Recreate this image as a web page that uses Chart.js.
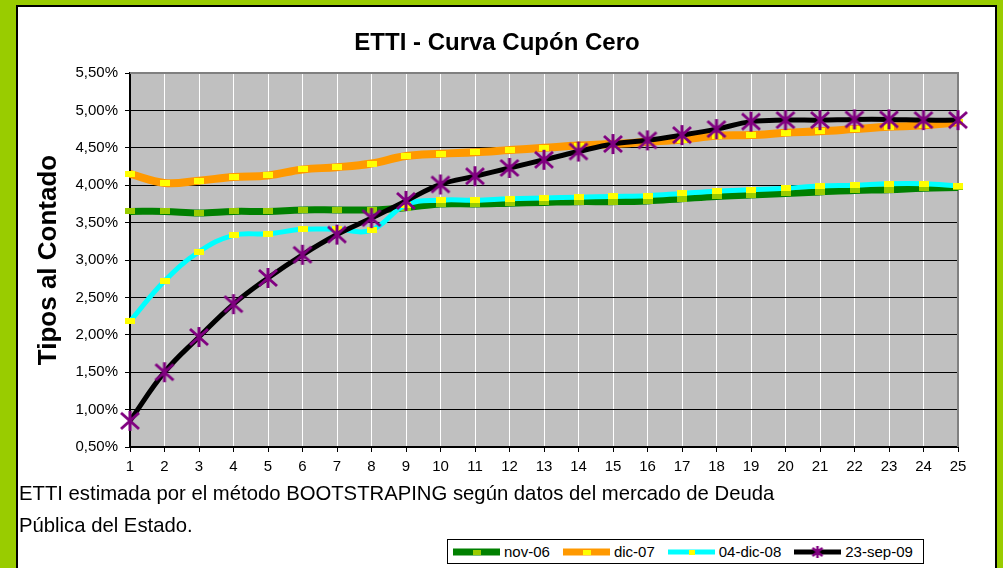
<!DOCTYPE html>
<html>
<head>
<meta charset="utf-8">
<script src="https://cdn.jsdelivr.net/npm/chart.js@4.4.1/dist/chart.umd.min.js"></script>
<style>
  html, body { margin: 0; padding: 0; }
  body { width: 1003px; height: 568px; background: #99cc00; position: relative; overflow: hidden;
         font-family: "Liberation Sans", Arial, sans-serif; }
  #panel { position: absolute; left: 16px; top: 5px; width: 981px; height: 600px; background: #fff;
           border: 2px solid #000; box-sizing: border-box; }
  #chart { position: absolute; left: 0; top: 0; }
  #note { position: absolute; left: 19px; top: 477px; font-size: 20.3px; line-height: 32px; color: #000;
          white-space: nowrap; }
  #legend { position: absolute; left: 447px; top: 539px; width: 477px; height: 25px; border: 1px solid #000;
            box-sizing: border-box; display: flex; align-items: center; padding-left: 5px;
            font-size: 15px; background: #fff; white-space: nowrap; }
  .item { display: flex; align-items: center; margin-right: 13px; flex-shrink: 0; }
  .item canvas { margin-right: 4px; }
</style>
</head>
<body>
<div id="panel"></div>
<canvas id="chart" width="1003" height="568"></canvas>
<div id="note">ETTI estimada por el método BOOTSTRAPING según datos del mercado de Deuda<br>Pública del Estado.</div>
<div id="legend"></div>
<script>
const plazos = ["1", "2", "3", "4", "5", "6", "7", "8", "9", "10", "11", "12", "13",
  "14", "15", "16", "17", "18", "19", "20", "21", "22", "23", "24", "25"];
const yTicks = [0.5, 1.0, 1.5, 2.0, 2.5, 3.0, 3.5, 4.0, 4.5, 5.0, 5.5];
const seriesNames = ["nov-06", "dic-07", "04-dic-08", "23-sep-09"];

const nov06 = [3.65, 3.65, 3.63, 3.65, 3.65, 3.67, 3.67, 3.67, 3.70, 3.75, 3.75, 3.76, 3.77,
  3.78, 3.78, 3.79, 3.82, 3.85, 3.87, 3.89, 3.91, 3.93, 3.94, 3.96, 3.97];
const dic07 = [4.15, 4.03, 4.06, 4.11, 4.13, 4.21, 4.24, 4.29, 4.39, 4.42, 4.44, 4.47, 4.50,
  4.53, 4.55, 4.58, 4.61, 4.66, 4.67, 4.70, 4.72, 4.75, 4.78, 4.80, 4.84];
const dic08 = [2.18, 2.72, 3.11, 3.33, 3.35, 3.41, 3.41, 3.40, 3.74, 3.80, 3.80, 3.82, 3.83,
  3.84, 3.85, 3.86, 3.89, 3.92, 3.94, 3.96, 3.99, 4.00, 4.02, 4.02, 3.99];
const sep09 = [0.85, 1.50, 1.97, 2.41, 2.76, 3.07, 3.34, 3.56, 3.79, 4.01, 4.12, 4.23, 4.34,
  4.45, 4.55, 4.60, 4.67, 4.75, 4.85, 4.87, 4.87, 4.88, 4.88, 4.87, 4.87];

const font = "'Liberation Sans', Arial, sans-serif";

function rectMarker(color, w, h) {
  const c = document.createElement("canvas");
  c.width = w;
  c.height = h;
  const g = c.getContext("2d");
  g.fillStyle = color;
  g.fillRect(0, 0, w, h);
  return c;
}

function starMarker(color, size, lw) {
  const c = document.createElement("canvas");
  c.width = size;
  c.height = size;
  const g = c.getContext("2d");
  g.strokeStyle = color;
  g.lineWidth = lw;
  g.beginPath();
  g.moveTo(size / 2, 1);
  g.lineTo(size / 2, size - 1);
  g.moveTo(2, 3);
  g.lineTo(size - 2, size - 3);
  g.moveTo(size - 2, 3);
  g.lineTo(2, size - 3);
  g.stroke();
  return c;
}

const styles = [
  { line: "#008000", width: 7, marker: rectMarker("#99cc00", 10, 6), small: rectMarker("#99cc00", 8, 5) },
  { line: "#ff9900", width: 8, marker: rectMarker("#ffff00", 10, 6), small: rectMarker("#ffff00", 8, 5) },
  { line: "#00ffff", width: 5, marker: rectMarker("#ffff00", 10, 6), small: rectMarker("#ffff00", 6, 5) },
  { line: "#000000", width: 5, marker: starMarker("#800080", 22, 3), small: starMarker("#800080", 14, 2.5) },
];
const values = [nov06, dic07, dic08, sep09];

const plotBox = {
  id: "plotBox",
  beforeDraw(chart) {
    const a = chart.chartArea;
    const ctx = chart.ctx;
    ctx.save();
    ctx.fillStyle = "#c0c0c0";
    ctx.fillRect(a.left, a.top, a.right - a.left, a.bottom - a.top);
    ctx.restore();
  },
  beforeDatasetsDraw(chart) {
    const a = chart.chartArea;
    const ctx = chart.ctx;
    ctx.save();
    ctx.strokeStyle = "#808080";
    ctx.lineWidth = 2;
    ctx.beginPath();
    ctx.moveTo(a.left, a.top);
    ctx.lineTo(a.right, a.top);
    ctx.lineTo(a.right, a.bottom);
    ctx.stroke();
    ctx.restore();
  },
};

new Chart(document.getElementById("chart"), {
  type: "line",
  data: {
    labels: plazos,
    datasets: seriesNames.map((name, i) => ({
      label: name,
      data: values[i],
      borderColor: styles[i].line,
      backgroundColor: styles[i].line,
      borderWidth: styles[i].width,
      pointStyle: styles[i].marker,
      pointRadius: 4,
      tension: 0.4,
      clip: false,
      order: 4 - i,
    })),
  },
  options: {
    responsive: false,
    animation: false,
    events: [],
    layout: { padding: { left: 36, right: 45, top: 0, bottom: 91 } },
    plugins: {
      legend: { display: false },
      tooltip: { enabled: false },
      title: {
        display: true,
        text: "ETTI - Curva Cupón Cero",
        color: "#000",
        font: { family: font, size: 24, weight: "bold" },
        padding: { top: 28.6, bottom: 15.6 },
      },
    },
    scales: {
      x: {
        grid: { color: "#ffffff", tickColor: "#000", tickLength: 5, lineWidth: 1 },
        border: { color: "#000", width: 2 },
        ticks: { color: "#000", font: { family: font, size: 15 }, padding: 6, maxRotation: 0, autoSkip: false },
        afterFit: (s) => { s.height = 30; },
      },
      y: {
        min: 0.5,
        max: 5.5,
        afterBuildTicks: (s) => { s.ticks = yTicks.map((v) => ({ value: v })); },
        grid: { color: "#000", tickColor: "#000", tickLength: 5, lineWidth: 1 },
        border: { color: "#000", width: 2 },
        ticks: {
          color: "#000",
          font: { family: font, size: 15 },
          padding: 7,
          callback: (v) => v.toFixed(2).replace(".", ",") + "%",
        },
        title: {
          display: true,
          text: "Tipos al Contado",
          color: "#000",
          font: { family: font, size: 26, weight: "bold", lineHeight: 1 },
          padding: 0,
        },
        afterFit: (s) => { s.width = 94; },
      },
    },
  },
  plugins: [plotBox],
});

// legend boxes
const legend = document.getElementById("legend");
seriesNames.forEach((name, i) => {
  const item = document.createElement("div");
  item.className = "item";
  const c = document.createElement("canvas");
  c.width = 47;
  c.height = 14;
  const g = c.getContext("2d");
  g.fillStyle = styles[i].line;
  const lw = Math.min(styles[i].width, 7);
  g.fillRect(0, 7 - lw / 2, 47, lw);
  const m = styles[i].small;
  g.drawImage(m, 23.5 - m.width / 2, 7 - m.height / 2);
  const t = document.createElement("span");
  t.textContent = name;
  item.appendChild(c);
  item.appendChild(t);
  legend.appendChild(item);
});
</script>
</body>
</html>
